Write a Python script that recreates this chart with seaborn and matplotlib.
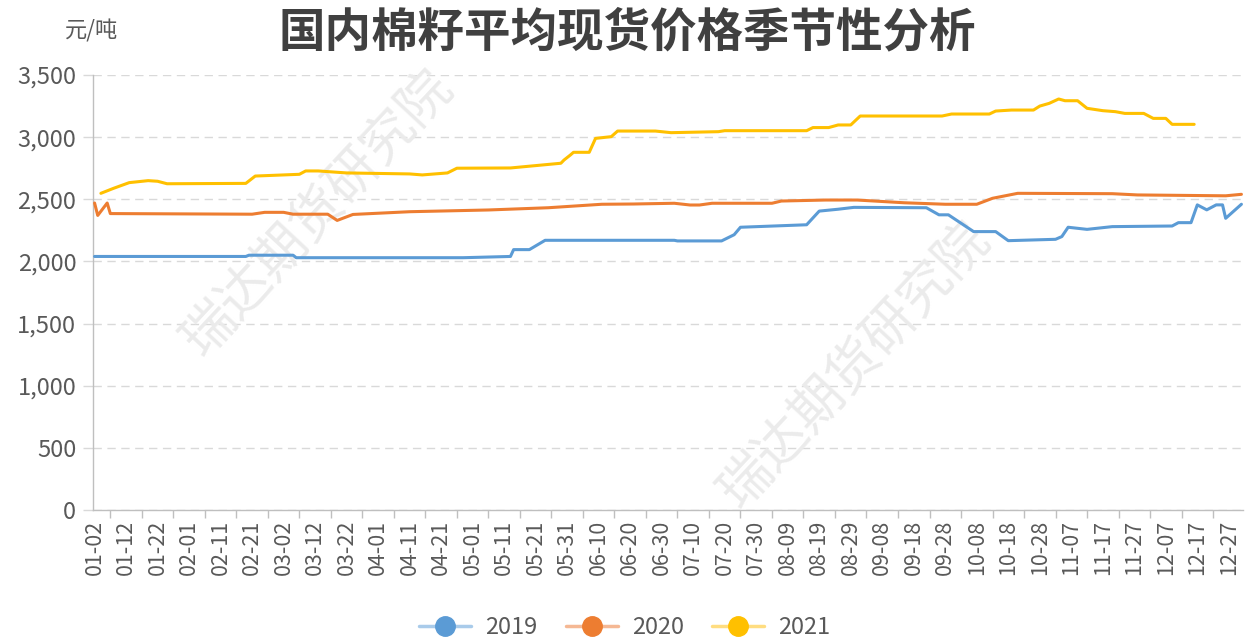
import numpy as np
import pandas as pd
import matplotlib
matplotlib.use("Agg")
import matplotlib.pyplot as plt
from matplotlib.ticker import FuncFormatter, FixedLocator
from matplotlib.lines import Line2D
import seaborn as sns

# category axis: every calendar day 01-02 .. 12-31 (leap-year calendar)
cats = pd.Index(pd.date_range("2020-01-02", "2020-12-31").strftime("%m-%d"))

dates_2019 = ["01-02", "02-19", "02-20", "03-05", "03-06", "04-28", "05-13", "05-14",
              "05-19", "05-24", "07-04", "07-05", "07-19", "07-23", "07-25", "08-15",
              "08-19", "08-25", "08-30", "09-22", "09-26", "09-29", "10-07", "10-14",
              "10-18", "11-02", "11-04", "11-06", "11-12", "11-20", "12-09", "12-11",
              "12-15", "12-17", "12-20", "12-23", "12-25", "12-26", "12-31"]
price_2019 = [2040, 2040, 2050, 2050, 2030, 2030, 2040, 2095,
              2095, 2170, 2170, 2165, 2165, 2215, 2275, 2295,
              2405, 2420, 2435, 2432, 2375, 2375, 2240, 2240,
              2167, 2178, 2200, 2275, 2258, 2280, 2285, 2312,
              2312, 2455, 2415, 2455, 2455, 2347, 2460]

dates_2020 = ["01-02", "01-03", "01-06", "01-07", "02-21", "02-25", "03-02", "03-05",
              "03-16", "03-19", "03-24", "04-11", "05-06", "05-25", "06-11", "06-21",
              "07-04", "07-09", "07-12", "07-16", "08-04", "08-07", "08-21", "08-31",
              "09-15", "09-28", "10-08", "10-13", "10-21", "11-20", "11-28", "12-26",
              "12-31"]
price_2020 = [2470, 2370, 2470, 2385, 2380, 2395, 2395, 2380,
              2380, 2330, 2378, 2400, 2414, 2432, 2460, 2462,
              2468, 2454, 2454, 2468, 2468, 2486, 2494, 2494,
              2472, 2460, 2460, 2508, 2548, 2545, 2535, 2528,
              2540]

dates_2021 = ["01-04", "01-08", "01-13", "01-19", "01-22", "01-25", "02-19", "02-22",
              "03-07", "03-09", "03-13", "03-22", "04-11", "04-15", "04-23", "04-26",
              "05-13", "05-29", "05-30", "06-01", "06-02", "06-07", "06-09", "06-14",
              "06-16", "06-28", "07-03", "07-18", "07-20", "08-15", "08-17", "08-22",
              "08-25", "08-29", "09-01", "09-27", "09-30", "10-12", "10-14", "10-19",
              "10-26", "10-28", "10-31", "11-03", "11-05", "11-09", "11-12", "11-17",
              "11-21", "11-24", "11-30", "12-03", "12-07", "12-09", "12-16"]
price_2021 = [2548, 2588, 2634, 2650, 2645, 2625, 2628, 2687,
              2701, 2728, 2728, 2712, 2704, 2696, 2712, 2750,
              2752, 2790, 2816, 2856, 2878, 2878, 2990, 3004,
              3049, 3049, 3036, 3044, 3052, 3052, 3077, 3077,
              3098, 3098, 3170, 3170, 3186, 3186, 3210, 3218,
              3218, 3250, 3272, 3307, 3293, 3293, 3232, 3213,
              3205, 3191, 3191, 3151, 3151, 3103, 3103]

years = ["2019", "2020", "2021"]
colors = ["#5B9BD5", "#ED7D31", "#FFC000"]
light = ["#A9CBEA", "#F5B894", "#FFDD80"]

frames = []
for y, d, p in zip(years, [dates_2019, dates_2020, dates_2021],
                   [price_2019, price_2020, price_2021]):
    frames.append(pd.DataFrame({"pos": cats.get_indexer(d), "price": p, "year": y}))
df = pd.concat(frames, ignore_index=True)

sns.set_theme(style="white")
plt.rcParams["font.family"] = ["Noto Sans CJK SC", "DejaVu Sans"]

fig = plt.figure(figsize=(12.5, 6.43), dpi=100)
ax = fig.add_axes([93 / 1250, 1 - 510 / 643, 1150 / 1250, 435 / 643])

sns.lineplot(data=df, x="pos", y="price", hue="year", palette=dict(zip(years, colors)),
             estimator=None, linewidth=2.2, legend=False, ax=ax, zorder=3)

ax.set_xlim(-0.5, len(cats) - 0.5)
ax.set_ylim(0, 3500)
ax.set_yticks(np.arange(0, 3501, 500))
ax.yaxis.set_major_formatter(FuncFormatter(lambda v, _: f"{v:,.0f}"))
ax.grid(axis="y", color="#D9D9D9", linestyle=(0, (6, 4)), linewidth=1.0)
ax.set_axisbelow(True)

lab_pos = np.arange(0, len(cats), 10)
ax.set_xticks(lab_pos)
ax.set_xticklabels(cats[lab_pos], rotation=90)
ax.xaxis.set_minor_locator(FixedLocator(lab_pos + 5))
ax.tick_params(axis="x", which="major", length=0, pad=7, labelsize=15.5, labelcolor="#595959")
ax.tick_params(axis="x", which="minor", length=6, width=1, color="#BFBFBF", bottom=True)
ax.tick_params(axis="y", length=7, width=1, color="#D9D9D9", left=True, pad=5,
               labelsize=17, labelcolor="#595959")
ax.set_xlabel("")
ax.set_ylabel("")

for s in ["top", "right"]:
    ax.spines[s].set_visible(False)
for s in ["left", "bottom"]:
    ax.spines[s].set_color("#BFBFBF")
    ax.spines[s].set_linewidth(1.0)

fig.text(627 / 1250, 1 - 32 / 643, "国内棉籽平均现货价格季节性分析", ha="center", va="center",
         fontsize=33.5, fontweight="bold", color="#404040")
fig.text(92 / 1250, 1 - 31 / 643, "元/吨", ha="center", va="center", fontsize=16, color="#595959")

# watermark, kept under the lines
for cx, cy in [(318, 213), (855, 365)]:
    ax.text(cx / 1250, 1 - cy / 643, "瑞达期货研究院", ha="center", va="center",
            rotation=47, fontsize=38, color="#EBEBEB", zorder=1,
            transform=fig.transFigure)

handles = [Line2D([0], [0], color=lc, lw=2.5, marker="o", markersize=14,
                  markerfacecolor=c, markeredgecolor=c) for c, lc in zip(colors, light)]
fig.legend(handles, years, loc="center", bbox_to_anchor=(0.5, 1 - 628 / 643), ncol=3,
           frameon=False, fontsize=17, handlelength=2.2, columnspacing=1.2,
           handletextpad=0.6, labelcolor="#595959")

fig.savefig("out.png", dpi=100)
